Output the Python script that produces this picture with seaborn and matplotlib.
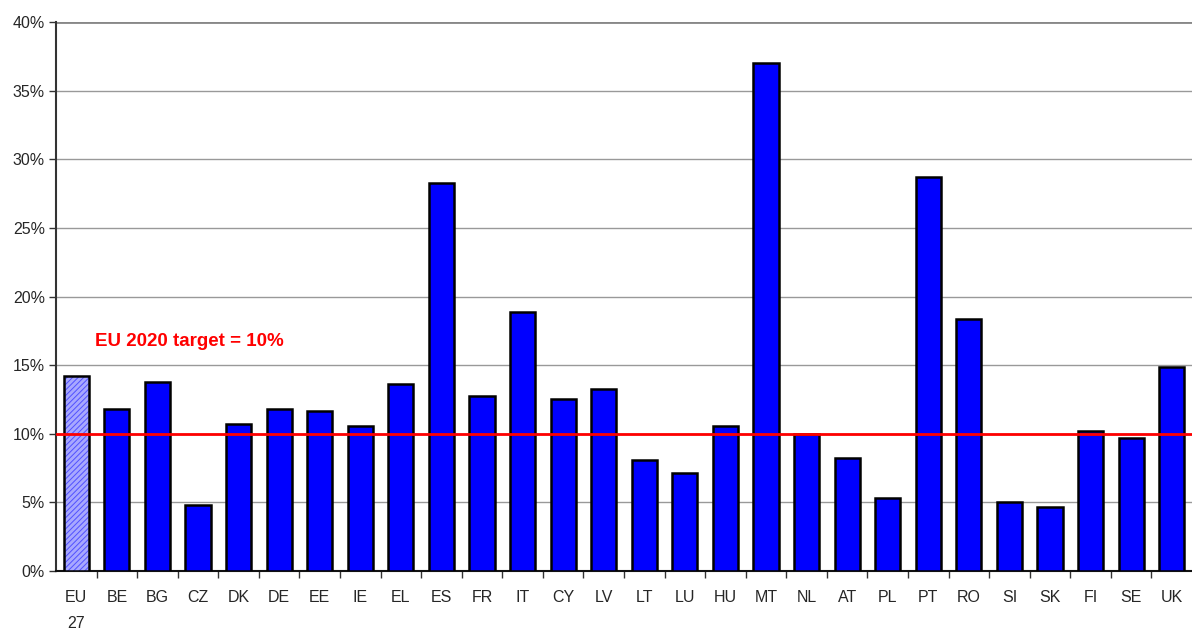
import matplotlib
matplotlib.use("Agg")
import matplotlib.pyplot as plt
import matplotlib.colors as mcolors
import seaborn as sns
import pandas as pd
from matplotlib.ticker import FuncFormatter, FixedLocator

countries = ["EU\n27", "BE", "BG", "CZ", "DK", "DE", "EE", "IE", "EL", "ES",
             "FR", "IT", "CY", "LV", "LT", "LU", "HU", "MT", "NL", "AT",
             "PL", "PT", "RO", "SI", "SK", "FI", "SE", "UK"]
shares = [14.2, 11.8, 13.8, 4.8, 10.7, 11.8, 11.65, 10.55, 13.6, 28.3,
          12.75, 18.9, 12.5, 13.25, 8.1, 7.15, 10.55, 37.0, 10.0, 8.2,
          5.3, 28.7, 18.4, 5.0, 4.65, 10.2, 9.7, 14.85]
target = 10.0
target_label = "EU 2020 target = 10%"

sns.set_theme(style="white")
plt.rcParams["font.family"] = ["Liberation Sans", "DejaVu Sans"]
plt.rcParams["hatch.linewidth"] = 0.7

df = pd.DataFrame({"country": countries, "share": shares})

fig = plt.figure(figsize=(11.92, 6.33), dpi=100)
ax = fig.add_axes([0.047, 0.098, 0.953, 0.867])

colors = ["#a8a8ff"] + ["#0000ff"] * (len(countries) - 1)
sns.barplot(data=df, x="country", y="share", hue="country", palette=colors,
            legend=False, width=0.62, edgecolor="black", linewidth=1.8,
            saturation=1, ax=ax, zorder=3)

# hatched EU27 bar, hatch in blue rather than the edge colour
eu_bar = ax.patches[0]
eu_bar.set_hatch("//////")
eu_bar._hatch_color = mcolors.to_rgba("#5050ff")

ax.set_xlim(-0.5, len(countries) - 0.5)
ax.set_ylim(0, 40)
ax.set_yticks(range(0, 41, 5))
ax.yaxis.set_major_formatter(FuncFormatter(lambda v, _: f"{v:.0f}%"))
ax.grid(axis="y", color="#999999", linewidth=1, zorder=0)
ax.set_axisbelow(True)

ax.axhline(target, color="#ff0000", linewidth=2, zorder=4)
ax.text(0.45, 16.7, target_label, color="#ff0000", fontsize=13.5,
        fontweight="bold", ha="left", va="center")

# ticks between categories, labels at category centres
ax.xaxis.set_minor_locator(FixedLocator([i + 0.5 for i in range(len(countries) - 1)]))
ax.tick_params(axis="x", which="minor", length=5, width=1, color="#333333",
               direction="out", bottom=True)
ax.tick_params(axis="x", which="major", length=0, pad=14, labelsize=11.5)
ax.tick_params(axis="y", which="major", length=5, width=1, color="#333333",
               direction="out", left=True, labelsize=11.5, pad=3)
for lbl in ax.get_xticklabels():
    lbl.set_va("top")
    lbl.set_linespacing(1.9)

ax.set_xlabel("")
ax.set_ylabel("")
for s in ["top", "right"]:
    ax.spines[s].set_visible(False)
ax.spines["left"].set_color("#333333")
ax.spines["left"].set_linewidth(1.5)
ax.spines["bottom"].set_color("#111111")
ax.spines["bottom"].set_linewidth(1.5)
ax.axhline(40, color="#888888", linewidth=2, zorder=1)

fig.savefig("out.png", dpi=100)
